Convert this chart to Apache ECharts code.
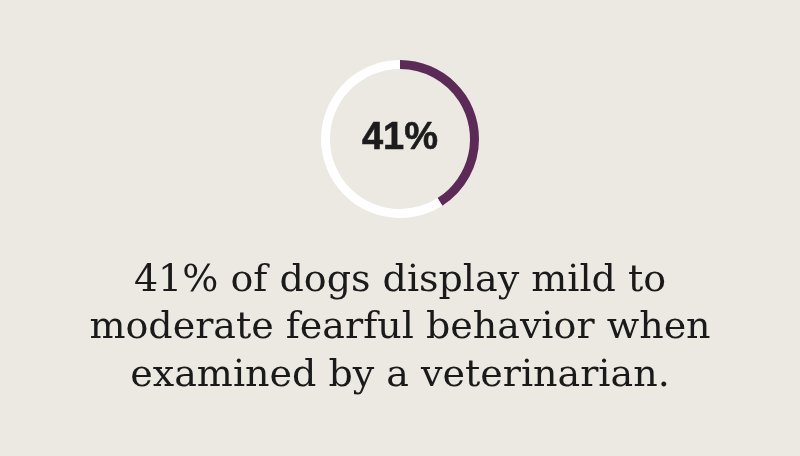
<!DOCTYPE html>
<html><head><meta charset="utf-8">
<script src="https://cdn.jsdelivr.net/npm/echarts@6/dist/echarts.min.js"></script>
<style>html,body{margin:0;padding:0;background:#ECE8E2;}#c{width:800px;height:456px;}</style>
</head><body><div id="c"></div>
<script>
const categories = ['Mild to moderate fearful behavior', 'Other'];
const values = [41, 59];
const centerLabel = '41%';
const caption = ['41% of dogs display mild to', 'moderate fearful behavior when', 'examined by a veterinarian.'];

const chart = echarts.init(document.getElementById('c'));
chart.setOption({
  backgroundColor: '#ECE8E2',
  animation: false,
  graphic: [
    {
      type: 'text', x: 400, y: 139,
      style: { text: centerLabel, textAlign: 'center', textVerticalAlign: 'middle',
        font: 'bold 38px "Liberation Sans", Arial, sans-serif', fill: '#1c1c1c',
        stroke: '#1c1c1c', lineWidth: 0.6 }
    }
  ].concat(caption.map((t, i) => ({
    type: 'text', x: 400, y: 300 + i * 47.5,
    style: { text: t, textAlign: 'center', textVerticalAlign: 'bottom',
      font: '38px "DejaVu Serif", serif', fill: '#1a1a1a' }
  }))),
  series: [{
    type: 'pie',
    center: [400, 139],
    radius: [70, 79],
    startAngle: 90,
    clockwise: true,
    silent: true,
    label: { show: false },
    labelLine: { show: false },
    data: categories.map((c, i) => ({ name: c, value: values[i], itemStyle: { color: i === 0 ? '#5B2A57' : '#FFFFFF' } }))
  }]
});
</script></body></html>
